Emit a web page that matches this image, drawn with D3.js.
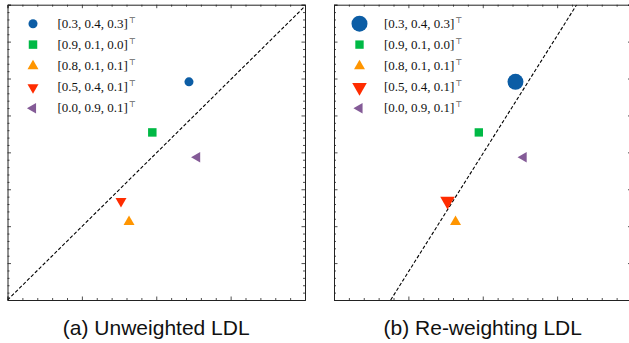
<!DOCTYPE html>
<html><head><meta charset="utf-8">
<script src="https://cdn.jsdelivr.net/npm/d3@7"></script>
<style>body{margin:0;background:#fff}svg{display:block}</style>
</head><body>
<script>
// ---- data ----
const labels = ["[0.3, 0.4, 0.3]", "[0.9, 0.1, 0.0]", "[0.8, 0.1, 0.1]", "[0.5, 0.4, 0.1]", "[0.0, 0.9, 0.1]"];
const colors = ["#0C5DA5", "#00B945", "#FF9500", "#FF2C00", "#845B97"];
const shapes = ["circle", "square", "up", "down", "left"];
const xs = [2.44, 1.947, 1.634, 1.526, 2.55];
const ys = [5.91, 4.54, 2.12, 2.68, 3.87];
const sizesA = [64, 72, 52, 52, 48];   // marker areas, panel (a)
const sizesB = [200, 70, 52, 92, 48];  // panel (b): re-weighted markers
const lineA = [[0, 0], [4, 7.96]];
const lineB = [[0.762, 0], [3.263, 8]];
const captions = ["(a) Unweighted LDL", "(b) Re-weighting LDL"];
const xMajor = [0, 1, 2, 3, 4];
const yMajor = [0, 1, 2, 3, 4, 5, 6, 7, 8];

(function(){
const W = 629, H = 343;
const svg = d3.select("body").append("svg").attr("width", W).attr("height", H);

const panels = [
  {x0: 7.5, sizes: sizesA, line: lineA, cap: captions[0]},
  {x0: 334, sizes: sizesB, line: lineB, cap: captions[1]}
];
const pw = 297.5, yTop = 4.7, yBot = 300;

function symType(s){
  if (s === "circle") return d3.symbolCircle;
  if (s === "square") return d3.symbolSquare;
  return d3.symbolTriangle;
}
function rot(s){ return s === "down" ? 180 : s === "left" ? -90 : 0; }

panels.forEach((p, pi) => {
  const x = d3.scaleLinear().domain([0, 4]).range([p.x0, p.x0 + pw]);
  const y = d3.scaleLinear().domain([0, 8]).range([yBot, yTop]);
  const g = svg.append("g");
  const cid = "clip" + pi;
  svg.append("clipPath").attr("id", cid).append("rect")
    .attr("x", p.x0).attr("y", yTop).attr("width", pw).attr("height", yBot - yTop);

  g.append("path").attr("clip-path", `url(#${cid})`)
    .attr("d", d3.line().x(d => x(d[0])).y(d => y(d[1]))(p.line))
    .attr("fill", "none").attr("stroke", "#000").attr("stroke-width", 1.1)
    .attr("stroke-dasharray", "3.5,2");

  xs.forEach((v, i) => {
    g.append("path")
      .attr("d", d3.symbol().type(symType(shapes[i])).size(p.sizes[i])())
      .attr("transform", `translate(${x(v)},${y(ys[i])}) rotate(${rot(shapes[i])})`)
      .attr("fill", colors[i]);
  });

  const xMinor = d3.range(0, 4.0001, 0.2).filter(v => Math.abs(v - Math.round(v)) > 1e-6);
  const yMinor = d3.range(0, 8.0001, 0.2).filter(v => Math.abs(v - Math.round(v)) > 1e-6);
  const mk = (axis, vals, size) => axis.tickValues(vals).tickSize(size).tickFormat("");
  const axes = [
    [d3.axisBottom, x, `translate(0,${yBot})`],
    [d3.axisTop, x, `translate(0,${yTop})`],
    [d3.axisLeft, y, `translate(${p.x0},0)`],
    [d3.axisRight, y, `translate(${p.x0 + pw},0)`]
  ];
  axes.forEach(([fn, sc, tr]) => {
    const isX = sc === x;
    const maj = g.append("g").attr("transform", tr)
      .call(mk(fn(sc), isX ? xMajor : yMajor, -3.5));
    const mn = g.append("g").attr("transform", tr)
      .call(mk(fn(sc), isX ? xMinor : yMinor, -2));
    [maj, mn].forEach(a => {
      a.select(".domain").attr("stroke", "#222").attr("stroke-width", 1);
      a.selectAll("line").attr("stroke", "#222").attr("stroke-width", 0.8);
      a.selectAll("text").remove();
    });
    mn.select(".domain").remove();
  });

  const lx = p.x0 + 25.5;
  const tx = p.x0 + 50;
  const ly = [23.7, 44.6, 66.2, 87.3, 108.3];
  labels.forEach((t, i) => {
    g.append("path")
      .attr("d", d3.symbol().type(symType(shapes[i])).size(p.sizes[i])())
      .attr("transform", `translate(${lx},${ly[i]}) rotate(${rot(shapes[i])})`)
      .attr("fill", colors[i]);
    const tt = g.append("text").attr("x", tx).attr("y", ly[i] + 4)
      .attr("font-family", "'Liberation Serif', 'DejaVu Serif', serif")
      .attr("font-size", 13).attr("fill", "#111").text(t);
    tt.append("tspan").attr("dy", -5).attr("dx", 1).attr("font-size", 8)
      .attr("font-family", "'DejaVu Sans', sans-serif").text("\u22A4");
  });

  svg.append("text").attr("x", p.x0 + pw / 2).attr("y", 335)
    .attr("text-anchor", "middle")
    .attr("font-family", "'Liberation Sans', Arial, sans-serif")
    .attr("font-size", 21).attr("fill", "#111").text(p.cap);
});
})();
</script>
</body></html>
